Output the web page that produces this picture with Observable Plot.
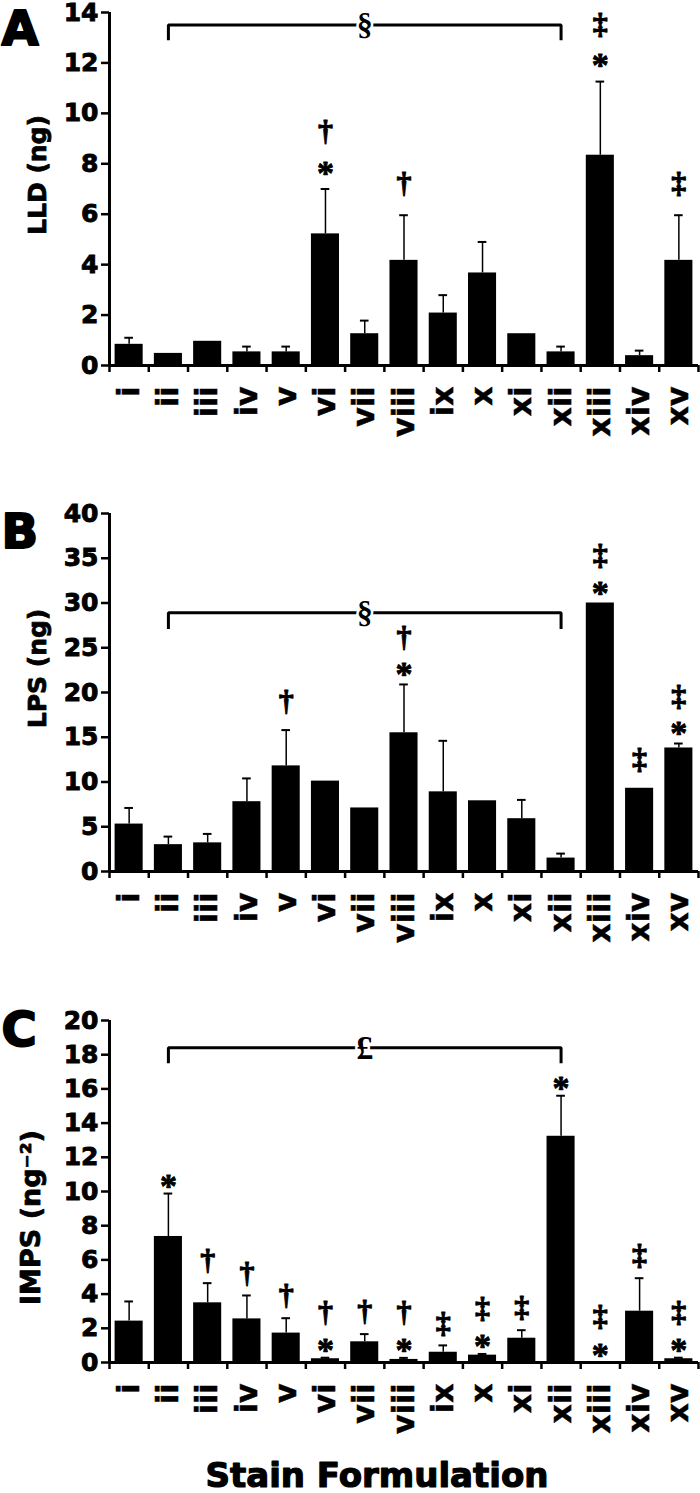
<!DOCTYPE html>
<html>
<head>
<meta charset="utf-8">
<script src="https://cdn.jsdelivr.net/npm/d3@7"></script>
<script src="https://cdn.jsdelivr.net/npm/@observablehq/plot@0.6"></script>
<style>
  html, body { margin: 0; padding: 0; background: white; }
  #chart svg { display: block; }
  #chart [aria-label="y-axis tick label"] text { stroke: black; stroke-width: 0.9px; }
  #chart [aria-label="x-axis tick label"] text { stroke: black; stroke-width: 0.5px; }
</style>
</head>
<body>
<div id="chart"></div>
<script>
const categories = ["i","ii","iii","iv","v","vi","vii","viii","ix","x","xi","xii","xiii","xiv","xv"];

// Panel A: LLD (ng)
const lldValues = [0.84, 0.48, 0.96, 0.54, 0.54, 5.22, 1.26, 4.17, 2.08, 3.67, 1.26, 0.54, 8.34, 0.39, 4.17];
const lldErrors = [1.1, null, null, 0.75, 0.75, 7.0, 1.78, 5.96, 2.79, 4.9, null, 0.75, 11.26, 0.59, 5.96];
const lldSig    = ["", "", "", "", "", "*†", "", "†", "", "", "", "", "*‡", "", "‡"];
const lldTicks  = [0, 2, 4, 6, 8, 10, 12, 14];

// Panel B: LPS (ng)
const lpsValues = [5.3, 3.0, 3.2, 7.8, 11.8, 10.1, 7.1, 15.5, 8.9, 7.9, 5.9, 1.5, 30.0, 9.3, 13.8];
const lpsErrors = [7.1, 3.9, 4.2, 10.4, 15.8, null, null, 20.9, 14.6, null, 8.0, 2.0, null, null, 14.3];
const lpsSig    = ["", "", "", "", "†", "", "", "*†", "", "", "", "", "*‡", "‡", "*‡"];
const lpsTicks  = [0, 5, 10, 15, 20, 25, 30, 35, 40];

// Panel C: IMPS (ng^-2)
const impsValues = [2.42, 7.37, 3.49, 2.55, 1.72, 0.22, 1.21, 0.18, 0.6, 0.43, 1.42, 13.23, 0.02, 3.0, 0.22];
const impsErrors = [3.57, 9.88, 4.64, 3.92, 2.59, 0.28, 1.66, 0.27, 1.0, 0.5, 1.89, 15.6, null, 4.93, 0.28];
const impsSig    = ["", "*", "†", "†", "†", "*†", "†", "*†", "‡", "*‡", "‡", "*", "*‡", "‡", "*‡"];
const impsTicks  = [0, 2, 4, 6, 8, 10, 12, 14, 16, 18, 20];

// Brackets (from ii to xii)
const brackets = [
  {panel: "A", top: 13.5, drop: 12.9, sym: "§"},
  {panel: "B", top: 28.9, drop: 27.1, sym: "§"},
  {panel: "C", top: 18.4, drop: 17.5, sym: "£"}
];

const SANS = "DejaVu Sans";
const SERIF = "Liberation Serif";
const STAR_FS = 34, DAG_FS = 30;

function panel(cfg) {
  const n = categories.length;
  const data = categories.map((c, i) => ({i, c, v: cfg.values[i], e: cfg.errors[i], s: cfg.sigs[i]}));
  const withErr = data.filter(d => d.e != null);
  const syms = data.flatMap(d => [...d.s].map((sym, k) => ({x: d.i + 0.5, y: d.e ?? d.v, sym, k})));
  const br = cfg.bracket;
  const brPts = [
    {x: 1.5, y: br.drop}, {x: 1.5, y: br.top}, {x: 11.5, y: br.top}, {x: 11.5, y: br.drop}
  ];
  const yMax = cfg.ticks[cfg.ticks.length - 1];
  const symStyle = {fontFamily: SERIF, fontWeight: "bold", fill: "black", stroke: "black", strokeWidth: 0.9, lineAnchor: "middle"};
  const marks = [
    Plot.rectY(data, {x1: "i", x2: d => d.i + 1, y: "v", insetLeft: 5.6, insetRight: 5.6, fill: "black"}),
    Plot.ruleX(withErr, {x: d => d.i + 0.5, y1: "v", y2: "e", stroke: "black", strokeWidth: 1.5}),
    Plot.ruleY(withErr, {y: "e", x1: d => d.i + 0.39, x2: d => d.i + 0.61, stroke: "black", strokeWidth: 2}),
    // axes lines
    Plot.ruleX([0], {y1: 0, y2: yMax, stroke: "black", strokeWidth: 3}),
    Plot.ruleY([0], {stroke: "black", strokeWidth: 3}),
    Plot.axisY(cfg.ticks, {tickSize: 8, tickPadding: 3, fontSize: 25, strokeWidth: 2.5, label: null}),
    Plot.axisX(d3.range(0, n + 1), {tickSize: 7, strokeWidth: 2.5, tickFormat: () => "", label: null}),
    Plot.axisX(d3.range(n).map(i => i + 0.5), {
      tickSize: 0, tickPadding: 21, tickRotate: -90, fontSize: 30,
      tickFormat: d => categories[Math.floor(d)], label: null
    }),
    // significance symbols
    Plot.text(syms.filter(d => d.k === 0 && d.sym === "*"), {
      x: "x", y: "y", text: "sym", fontSize: STAR_FS, ...symStyle,
      dy: cfg.offStar + 0.165 * STAR_FS
    }),
    Plot.text(syms.filter(d => d.k === 0 && d.sym !== "*"), {
      x: "x", y: "y", text: "sym", fontSize: DAG_FS, ...symStyle,
      dy: cfg.offDag - 0.05 * DAG_FS
    }),
    Plot.text(syms.filter(d => d.k === 1), {
      x: "x", y: "y", text: "sym", fontSize: DAG_FS, ...symStyle,
      dy: cfg.offStar + cfg.gap - 0.05 * DAG_FS
    }),
    // bracket
    Plot.line(brPts, {x: "x", y: "y", stroke: "black", strokeWidth: 3, strokeLinejoin: "miter", strokeLinecap: "butt"}),
    Plot.text([br], {
      x: () => 6.5, y: "top", text: "sym", fontFamily: SERIF, fontWeight: "bold", fontSize: br.sym === "£" ? 34 : 32,
      fill: "black", stroke: "white", strokeWidth: 5, paintOrder: "stroke", lineAnchor: "middle"
    }),
    // y label
    Plot.text([cfg.yLabel], {
      frameAnchor: "left", rotate: -90, dx: cfg.yLabelX - 109, dy: cfg.yLabelDy,
      fontSize: cfg.yLabelSize || 25, fontWeight: "bold", fontFamily: SANS, textAnchor: "middle", lineAnchor: "middle",
      fill: "black", stroke: "black", strokeWidth: 0.8
    }),
    // panel letter
    Plot.text([cfg.letter], {
      frameAnchor: "top-left", dx: -108, dy: cfg.letterDy, textAnchor: "start", lineAnchor: "top",
      fontSize: 48, fontWeight: "bold", fontFamily: SANS, fill: "black", stroke: "black", strokeWidth: 2
    })
  ];
  if (cfg.xTitle) {
    marks.push(Plot.text([cfg.xTitle], {
      frameAnchor: "bottom", dx: -27, dy: 114, fontSize: 34, fontWeight: "bold", fontFamily: SANS, lineAnchor: "middle",
      fill: "black", stroke: "black", strokeWidth: 1.2
    }));
  }
  return Plot.plot({
    width: 700,
    height: cfg.height,
    marginLeft: 109,
    marginRight: 2,
    marginTop: cfg.marginTop,
    marginBottom: cfg.marginBottom,
    style: {fontFamily: SANS, fontWeight: "bold", color: "black", background: "white", overflow: "visible"},
    x: {domain: [0, n], label: null},
    y: {domain: [0, yMax], label: null},
    marks
  });
}

const root = document.getElementById("chart");
root.append(panel({
  letter: "A", values: lldValues, errors: lldErrors, sigs: lldSig, ticks: lldTicks,
  yLabel: "LLD (ng)", yLabelX: 37, yLabelDy: -14, letterDy: -2,
  height: 500, marginTop: 12, marginBottom: 135, bracket: brackets[0],
  offStar: -22, offDag: -30, gap: -34
}));
root.append(panel({
  letter: "B", values: lpsValues, errors: lpsErrors, sigs: lpsSig, ticks: lpsTicks,
  yLabel: "LPS (ng)", yLabelX: 37, yLabelDy: -24, letterDy: 0,
  height: 490, marginTop: 13, marginBottom: 119, bracket: brackets[1],
  offStar: -16, offDag: -27, gap: -30
}));
root.append(panel({
  letter: "C", values: impsValues, errors: impsErrors, sigs: impsSig, ticks: impsTicks,
  yLabel: "IMPS (ng⁻²)", yLabelX: 31, yLabelDy: 26, yLabelSize: 27, letterDy: -9,
  height: 503, marginTop: 30, marginBottom: 131, bracket: brackets[2],
  offStar: -13, offDag: -21, gap: -31, xTitle: "Stain Formulation"
}));
</script>
</body>
</html>
